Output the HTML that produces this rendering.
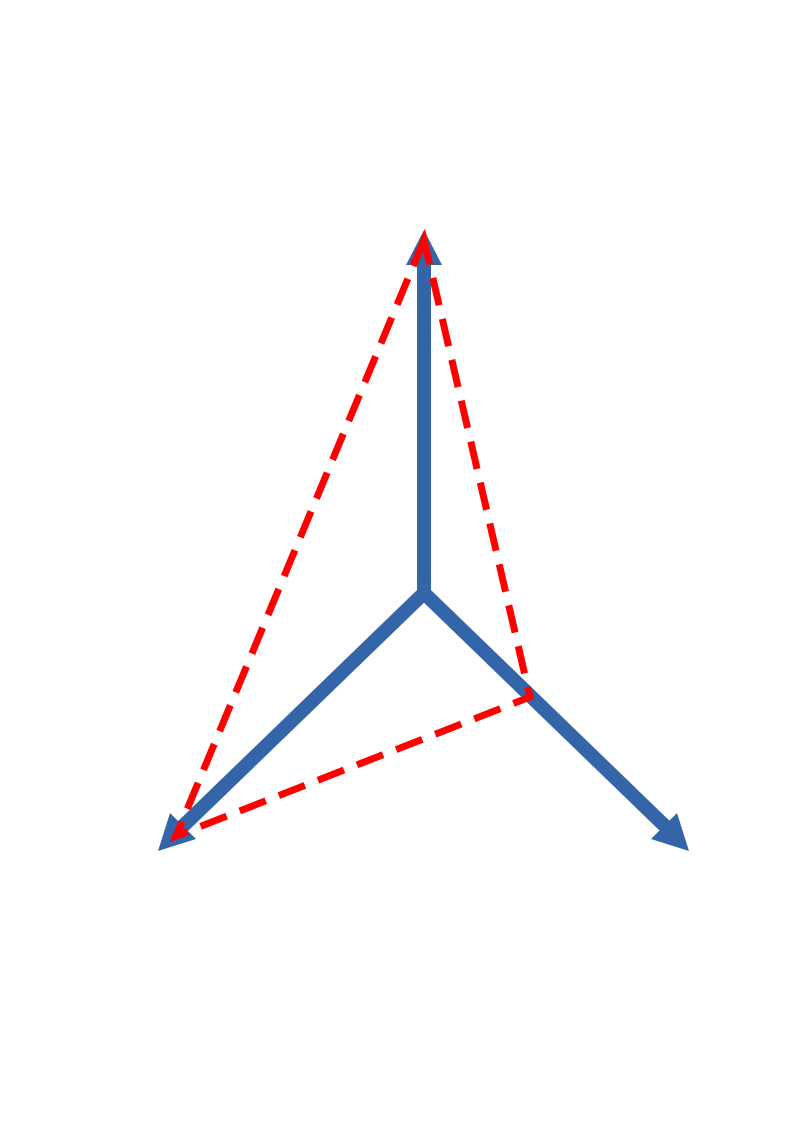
<!DOCTYPE html>
<html><head><meta charset="utf-8"><style>html,body{margin:0;padding:0;background:#fff}</style></head>
<body>
<svg width="794" height="1123" viewBox="0 0 794 1123" xmlns="http://www.w3.org/2000/svg">
<g stroke="#3465A8" stroke-width="14" fill="none" stroke-linecap="butt">
<line x1="424" y1="600" x2="424" y2="262"/>
<line x1="424" y1="593" x2="180" y2="829"/>
<line x1="424" y1="593" x2="668" y2="829"/>
</g>
<g fill="#3465A8">
<polygon points="424,230 442,265 406,265"/>
<polygon points="158,851 170,813 196,839"/>
<polygon points="689,851 677,813 651,839"/>
</g>
<g stroke="#FF0000" stroke-width="7" fill="none" stroke-dasharray="28,14">
<path d="M424,240 L176,836 L530,697 Z"/>
</g>
</svg>
</body></html>
